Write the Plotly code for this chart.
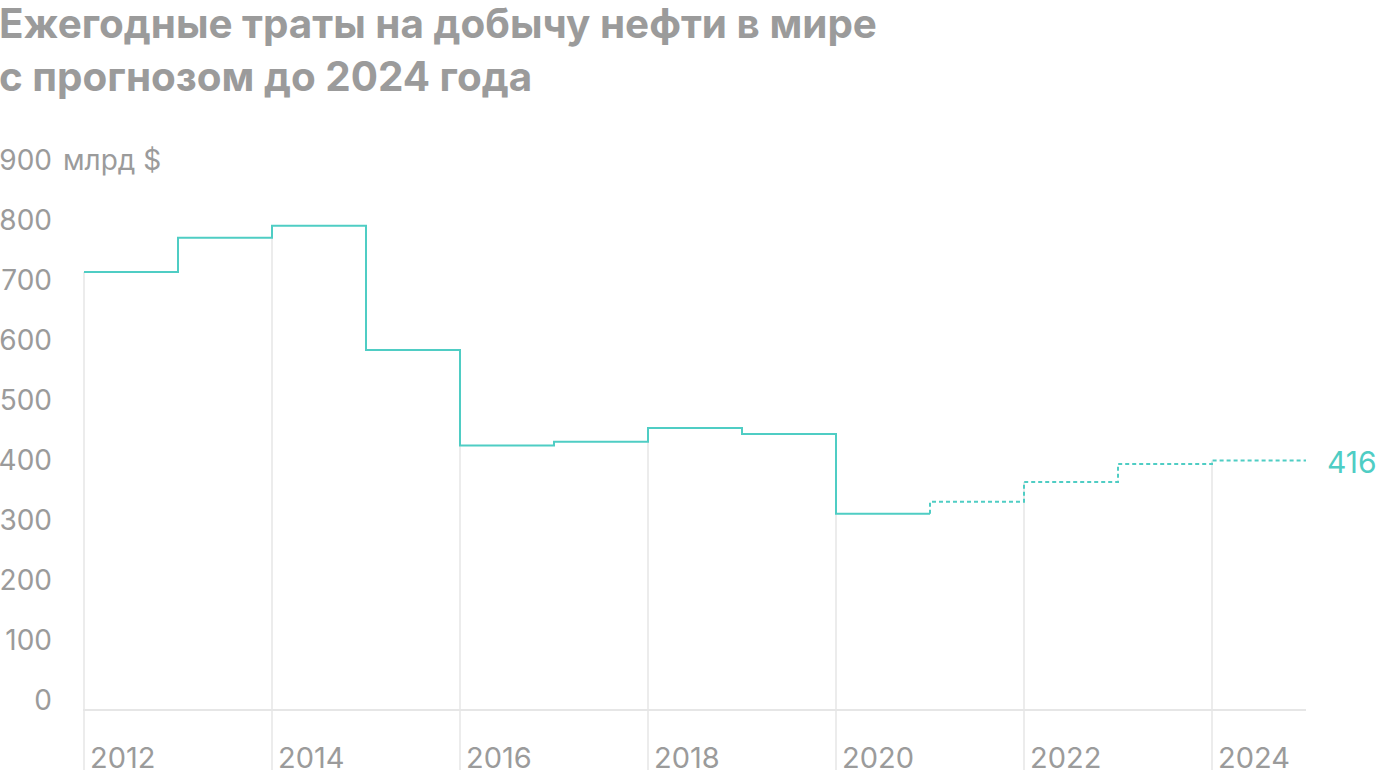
import plotly.graph_objects as go

# ---- data ----
years = [2012, 2013, 2014, 2015, 2016, 2017, 2018, 2019, 2020, 2021, 2022, 2023, 2024]
spend = [730, 787, 807, 600, 441, 447, 470, 460, 327, 347, 380, 410, 416]
forecast_start = 2021
grid_years = [2012, 2014, 2016, 2018, 2020, 2022, 2024]
x_tick_labels = ["2012", "2014", "2016", "2018", "2020", "2022", "2024"]
y_ticks = [0, 100, 200, 300, 400, 500, 600, 700, 800, 900]
y_tick_labels = ["0", "100", "200", "300", "400", "500", "600", "700", "800", "900"]
unit_label = "млрд $"
title_text = "Ежегодные траты на добычу нефти в мире<br>с прогнозом до 2024 года"

TEAL = "#4fcdc4"
GREY_TXT = "#9b9b9b"
GRID = "#e6e6e6"
FONT = "Inter"

value_of = dict(zip(years, spend))
fact_years = [y for y in years if y < forecast_start]
fact_vals = [value_of[y] for y in fact_years]
fc_years = [y for y in years if y >= forecast_start]
fc_vals = [value_of[y] for y in fc_years]
end_year = years[-1] + 1
y_bottom = -100

fig = go.Figure()

# drop lines at even years
dx, dy = [], []
for g in grid_years:
    dx += [g, g, None]
    dy += [y_bottom, value_of[g], None]
fig.add_trace(go.Scatter(x=dx, y=dy, mode="lines",
                         line=dict(color=GRID, width=1.5),
                         hoverinfo="skip", showlegend=False))

# actual values (solid step)
fig.add_trace(go.Scatter(x=fact_years + [forecast_start],
                         y=fact_vals + [fact_vals[-1]],
                         mode="lines", line=dict(color=TEAL, width=2, shape="hv"),
                         showlegend=False))

# forecast (dotted step)
fig.add_trace(go.Scatter(x=[forecast_start] + fc_years + [end_year],
                         y=[fact_vals[-1]] + fc_vals + [fc_vals[-1]],
                         mode="lines",
                         line=dict(color=TEAL, width=2, shape="hv", dash="4px,3px"),
                         showlegend=False))

fig.add_annotation(x=end_year, y=spend[-1], xref="x", yref="y",
                   text=str(spend[-1]), showarrow=False,
                   xanchor="left", yanchor="middle", xshift=19, yshift=-2,
                   font=dict(family=FONT, size=30, color=TEAL))

fig.add_annotation(x=0, y=y_ticks[-1], xref="paper", yref="y",
                   text=unit_label, showarrow=False,
                   xanchor="left", yanchor="middle", xshift=-22, yshift=10,
                   font=dict(family=FONT, size=28, color=GREY_TXT))

fig.add_annotation(x=0, y=1, xref="paper", yref="paper",
                   text="<b>" + title_text + "</b>", showarrow=False, align="left",
                   xanchor="left", yanchor="top", xshift=-86, yshift=173,
                   font=dict(family=FONT, size=40.4, color=GREY_TXT))

fig.update_layout(
    width=1400, height=780,
    margin=dict(l=83, r=94, t=170, b=10, autoexpand=False),
    paper_bgcolor="white", plot_bgcolor="white",
    xaxis=dict(range=[years[0] - 1 / 94, end_year], showgrid=False, zeroline=False,
               showline=False, ticks="", tickvals=grid_years, ticktext=x_tick_labels,
               ticklabelposition="inside right", ticklabelstandoff=-10,
               ticklabelshift=6, automargin=False,
               tickfont=dict(family=FONT, size=29, color=GREY_TXT)),
    yaxis=dict(range=[y_bottom, 900], showgrid=False, zeroline=True,
               zerolinecolor=GRID, zerolinewidth=1.5, showline=False, ticks="",
               tickvals=y_ticks, ticktext=y_tick_labels, automargin=False,
               ticklabelshift=-10, ticklabelstandoff=30,
               tickfont=dict(family=FONT, size=28, color=GREY_TXT)),
    hovermode=False,
)

fig.write_html("out.html")
